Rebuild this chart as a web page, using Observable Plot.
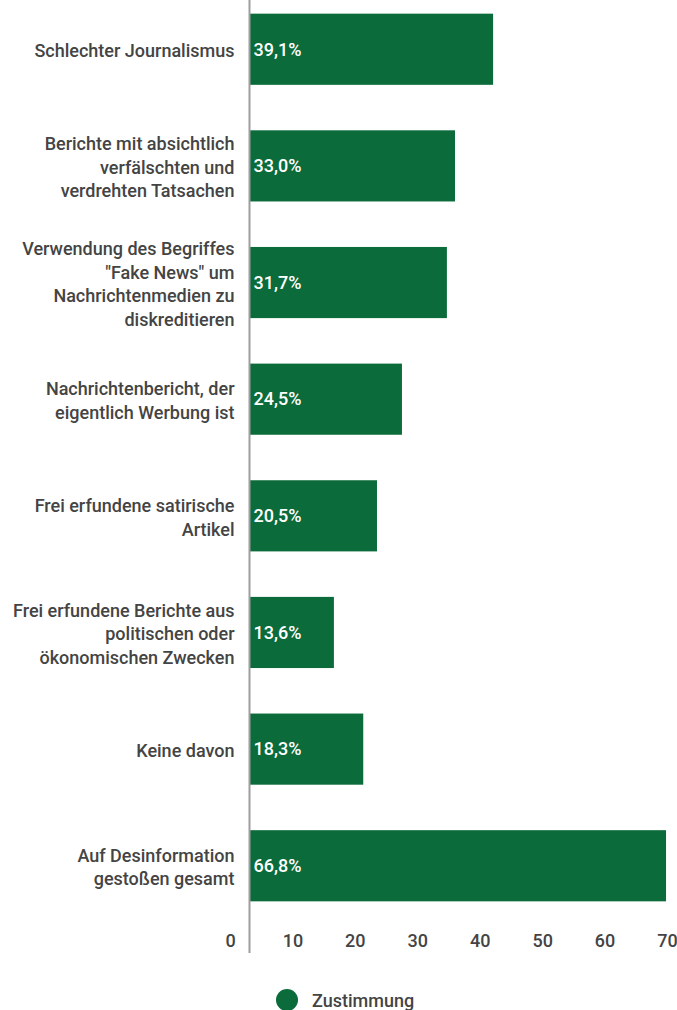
<!DOCTYPE html>
<html>
<head>
<meta charset="utf-8">
<script src="https://cdn.jsdelivr.net/npm/d3@7"></script>
<script src="https://cdn.jsdelivr.net/npm/@observablehq/plot@0.6"></script>
<style>
  body { margin: 0; background: #fff; font-family: Roboto, sans-serif; }
  #chart svg { display: block; }
  .legend { display: flex; align-items: center; height: 40px; margin-top: 20px; padding-left: 276px; font-size: 18px; font-weight: 500; color: #444; }
  .legend .dot { width: 22px; height: 22px; border-radius: 50%; background: #0b6b3a; margin-right: 14px; }
</style>
</head>
<body>
<div id="chart"></div>
<div class="legend"><span class="dot"></span><span>Zustimmung</span></div>
<script>
const categories = [
  "Schlechter Journalismus",
  "Berichte mit absichtlich verfälschten und verdrehten Tatsachen",
  "Verwendung des Begriffes \"Fake News\" um Nachrichtenmedien zu diskreditieren",
  "Nachrichtenbericht, der eigentlich Werbung ist",
  "Frei erfundene satirische Artikel",
  "Frei erfundene Berichte aus politischen oder ökonomischen Zwecken",
  "Keine davon",
  "Auf Desinformation gestoßen gesamt"
];
const categoryLabels = [
  "Schlechter Journalismus",
  "Berichte mit absichtlich\nverfälschten und\nverdrehten Tatsachen",
  "Verwendung des Begriffes\n\"Fake News\" um\nNachrichtenmedien zu\ndiskreditieren",
  "Nachrichtenbericht, der\neigentlich Werbung ist",
  "Frei erfundene satirische\nArtikel",
  "Frei erfundene Berichte aus\npolitischen oder\nökonomischen Zwecken",
  "Keine davon",
  "Auf Desinformation\ngestoßen gesamt"
];
const values = [39.1, 33.0, 31.7, 24.5, 20.5, 13.6, 18.3, 66.8];
const xTicks = [0, 10, 20, 30, 40, 50, 60, 70];

const data = categories.map((c, i) => ({category: c, value: values[i]}));
const labelOf = new Map(categories.map((c, i) => [c, categoryLabels[i]]));
const fmt = v => v.toFixed(1).replace(".", ",") + "%";

const chart = Plot.plot({
  width: 677,
  height: 960,
  marginTop: 2,
  marginBottom: 47,
  marginLeft: 249,
  marginRight: 11,
  style: {fontFamily: "Roboto, sans-serif", fontSize: "18px", fontWeight: 500, color: "#444", overflow: "visible"},
  x: {domain: [0, 70], range: [249, 686]},
  y: {domain: categories, paddingInner: 0.39, paddingOuter: 0.1, round: false},
  marks: [
    Plot.barX(data, {y: "category", x: "value", fill: "#0b6b3a"}),
    Plot.text(data, {y: "category", x: 0, text: d => fmt(d.value), textAnchor: "start", dx: 4, fill: "white", fontSize: 18, fontWeight: 500}),
    Plot.ruleX([0], {stroke: "#9e9e9e", strokeWidth: 2, insetTop: -6, insetBottom: -40}),
    Plot.axisY({tickSize: 0, tickPadding: 15, tickFormat: c => labelOf.get(c), lineHeight: 1.3, fontSize: 18, fontWeight: 500, fill: "#444", label: null}),
    Plot.axisX({ticks: xTicks, tickSize: 0, tickPadding: 21, dx: -19, fontSize: 18, fontWeight: 500, fill: "#444", label: null, tickFormat: d => String(d)})
  ]
});
document.getElementById("chart").appendChild(chart);
</script>
</body>
</html>
